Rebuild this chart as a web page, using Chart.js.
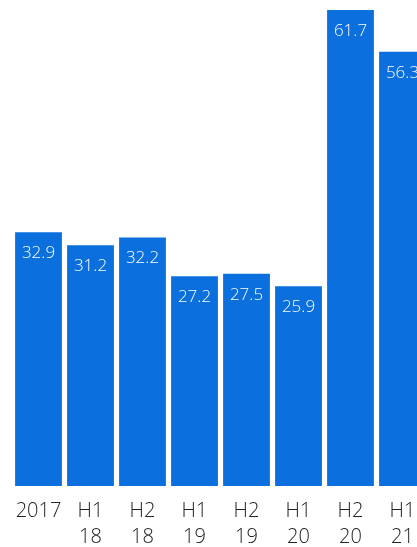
<!DOCTYPE html>
<html>
<head>
<meta charset="utf-8">
<script src="https://cdn.jsdelivr.net/npm/chart.js@4/dist/chart.umd.min.js"></script>
<style>
  html, body { margin: 0; padding: 0; background: #fff; overflow: hidden; }
  #wrap { width: 440px; height: 547px; position: relative; }
</style>
</head>
<body>
<div id="wrap"><canvas id="chart"></canvas></div>
<script>
const categories = [['2017'], ['H1', '18'], ['H2', '18'], ['H1', '19'], ['H2', '19'], ['H1', '20'], ['H2', '20'], ['H1', '21']];
const values = [32.9, 31.2, 32.2, 27.2, 27.5, 25.9, 61.7, 56.3];
const barColor = '#0b6fdd';
const fontFamily = '"Open Sans", "DejaVu Sans", sans-serif';

// draws the value inside the top of each bar
const valueLabels = {
  id: 'valueLabels',
  afterDatasetsDraw(chart) {
    const ctx = chart.ctx;
    const meta = chart.getDatasetMeta(0);
    ctx.save();
    ctx.fillStyle = '#ffffff';
    ctx.font = '300 17px ' + fontFamily;
    ctx.textAlign = 'center';
    ctx.textBaseline = 'middle';
    meta.data.forEach((bar, i) => {
      ctx.fillText(values[i].toFixed(1), bar.x, bar.y + 21);
    });
    ctx.restore();
  }
};

const chart = new Chart(document.getElementById('chart'), {
  type: 'bar',
  data: {
    labels: categories,
    datasets: [{
      data: values,
      backgroundColor: barColor,
      borderWidth: 0,
      categoryPercentage: 1,
      barPercentage: 0.9
    }]
  },
  options: {
    responsive: true,
    maintainAspectRatio: false,
    animation: false,
    layout: { padding: { left: 12.5, right: 11.5, top: 0, bottom: 0 } },
    plugins: { legend: { display: false }, tooltip: { enabled: false } },
    scales: {
      x: {
        grid: { display: false, drawTicks: false },
        border: { display: false },
        afterFit(scale) { scale.height = 61; },
        ticks: {
          color: '#222222',
          padding: 12,
          maxRotation: 0,
          autoSkip: false,
          font: { family: fontFamily, size: 20, weight: 300, lineHeight: 1.3 }
        }
      },
      y: {
        display: false,
        min: 0,
        max: 63
      }
    }
  },
  plugins: [valueLabels]
});
</script>
</body>
</html>
